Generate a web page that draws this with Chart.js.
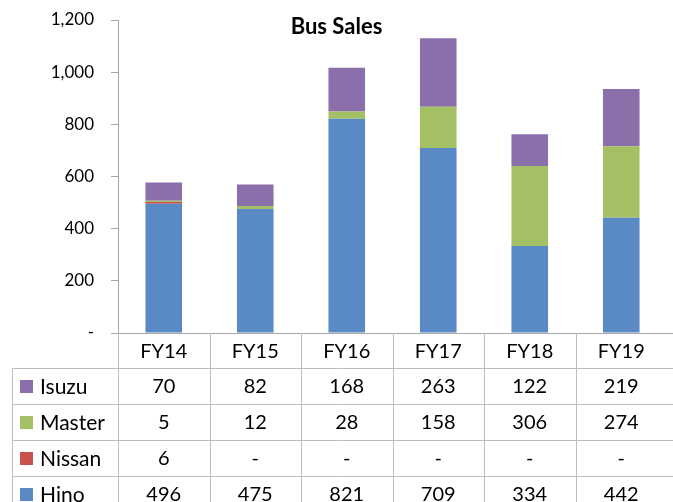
<!DOCTYPE html>
<html>
<head>
<meta charset="utf-8">
<script src="https://cdn.jsdelivr.net/npm/chart.js@4.4.1/dist/chart.umd.min.js"></script>
<style>
  html, body { margin: 0; padding: 0; background: #ffffff; }
  #wrap { width: 673px; height: 502px; }
</style>
</head>
<body>
<div id="wrap"><canvas id="c" width="673" height="502"></canvas></div>
<script>
const categories = ['FY14', 'FY15', 'FY16', 'FY17', 'FY18', 'FY19'];
const hino   = [496, 475, 821, 709, 334, 442];
const nissan = [6, 0, 0, 0, 0, 0];
const master = [5, 12, 28, 158, 306, 274];
const isuzu  = [70, 82, 168, 263, 122, 219];
const yTicks = [0, 200, 400, 600, 800, 1000, 1200];
const chartTitle = 'Bus Sales';

const colors = {
  Hino: '#5a8ac6',
  Nissan: '#c9524f',
  Master: '#a3c164',
  Isuzu: '#8b6fab'
};

const FONT = 'Lato, "Noto Sans", sans-serif';

const tablePlugin = {
  id: 'tablePlugin',
  afterDraw(chart) {
    const ctx = chart.ctx;
    const ca = chart.chartArea;
    const xs = chart.scales.x;
    const W = chart.width;
    const colW = xs.getPixelForValue(1) - xs.getPixelForValue(0);
    const top = Math.round(ca.bottom);
    const rowH = 36;
    const headerH = 35;
    const rowsTop = top + headerH;
    const leftX = 12;

    ctx.save();
    // title
    ctx.fillStyle = '#000';
    ctx.font = 'bold 22px ' + FONT;
    ctx.textAlign = 'center';
    ctx.textBaseline = 'middle';
    ctx.fillText(chartTitle, W / 2, 27);

    ctx.strokeStyle = '#bdbdbd';
    ctx.lineWidth = 1;
    const hline = (x1, x2, y) => { ctx.beginPath(); ctx.moveTo(x1, y + 0.5); ctx.lineTo(x2, y + 0.5); ctx.stroke(); };
    const vline = (x, y1, y2) => { ctx.beginPath(); ctx.moveTo(Math.round(x) + 0.5, y1); ctx.lineTo(Math.round(x) + 0.5, y2); ctx.stroke(); };

    // axis line / table top
    ctx.strokeStyle = '#a6a6a6';
    hline(ca.left - 7, W, top);
    ctx.strokeStyle = '#bdbdbd';
    for (let r = 0; r < 4; r++) hline(leftX, W, rowsTop + r * rowH);
    vline(ca.left, top, chart.height);
    vline(leftX, rowsTop, chart.height);
    for (let i = 0; i < categories.length - 1; i++) {
      vline(xs.getPixelForValue(i) + colW / 2, top, chart.height);
    }

    // header
    ctx.fillStyle = '#000';
    ctx.font = '20px ' + FONT;
    ctx.textAlign = 'center';
    ctx.textBaseline = 'middle';
    categories.forEach((c, i) => ctx.fillText(c, xs.getPixelForValue(i), top + headerH / 2 + 1));

    // rows (reverse stack order)
    const rows = chart.data.datasets.slice().reverse();
    rows.forEach((ds, r) => {
      const cy = rowsTop + r * rowH + rowH / 2 + 1;
      ctx.fillStyle = ds.backgroundColor;
      ctx.fillRect(20, Math.round(cy - 7), 13, 13);
      ctx.fillStyle = '#000';
      ctx.textAlign = 'left';
      ctx.font = '21px ' + FONT;
      ctx.fillText(ds.label, 40, cy);
      ctx.textAlign = 'center';
      ctx.font = '20px ' + FONT;
      ds.data.forEach((v, i) => {
        ctx.fillText(v === 0 ? '-' : v.toLocaleString('en-US'), xs.getPixelForValue(i), cy);
      });
    });
    ctx.restore();
  }
};

new Chart(document.getElementById('c'), {
  type: 'bar',
  data: {
    labels: categories,
    datasets: [
      { label: 'Hino', data: hino, backgroundColor: colors.Hino },
      { label: 'Nissan', data: nissan, backgroundColor: colors.Nissan },
      { label: 'Master', data: master, backgroundColor: colors.Master },
      { label: 'Isuzu', data: isuzu, backgroundColor: colors.Isuzu }
    ]
  },
  options: {
    responsive: false,
    animation: false,
    layout: { padding: { top: 20, left: 0, right: 6, bottom: 169 } },
    datasets: { bar: { barPercentage: 0.4, categoryPercentage: 1.0, borderWidth: 0 } },
    plugins: {
      legend: { display: false },
      title: { display: false },
      tooltip: { enabled: false }
    },
    scales: {
      x: { stacked: true, display: false, offset: true },
      y: {
        stacked: true,
        min: 0,
        max: 1200,
        afterFit(scale) { scale.width = 118; scale.paddingTop = 10; scale.paddingBottom = 10; },
        afterBuildTicks(scale) { scale.ticks = yTicks.map(v => ({ value: v })); },
        ticks: {
          padding: 17,
          color: '#000',
          font: { family: FONT, size: 17 },
          callback: v => v === 0 ? '-' : v.toLocaleString('en-US')
        },
        grid: { drawOnChartArea: false, drawTicks: true, tickLength: 7, color: '#a6a6a6' },
        border: { display: true, color: '#a6a6a6' }
      }
    }
  },
  plugins: [tablePlugin]
});
</script>
</body>
</html>
